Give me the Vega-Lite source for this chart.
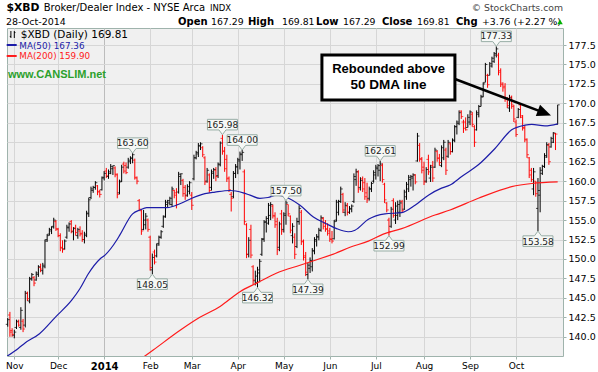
{
"$schema": "https://vega.github.io/schema/vega-lite/v6.json",
"width": 556, "height": 328,
"autosize": {"type": "none"},
"padding": {"left": 7, "top": 28, "right": 35, "bottom": 16},
"background": "white",
"config": {"view": {"fill": "#f0f0f0", "stroke": "#9fb3ac", "strokeWidth": 1},
"axis": {"title": null, "labelFont": "DejaVu Sans", "labelFontSize": 9, "labelColor": "#000000", "domain": false, "tickColor": "#9fb3ac", "tickSize": 3, "gridColor": "#d6d6d6", "grid": true, "labelOverlap": false}},
"datasets": {
"bars": [
{"i":-3,"o":141.6,"h":142.4,"l":141.3,"c":142.2},
{"i":-2,"o":142.8,"h":143.2,"l":140.0,"c":140.6},
{"i":-1,"o":140.8,"h":141.1,"l":140.0,"c":140.3},
{"i":0,"o":140.2,"h":140.9,"l":139.8,"c":140.6},
{"i":1,"o":141.2,"h":142.2,"l":141.0,"c":142.0},
{"i":2,"o":141.9,"h":142.2,"l":141.3,"c":141.5},
{"i":3,"o":141.2,"h":143.8,"l":140.9,"c":143.4},
{"i":4,"o":142.0,"h":142.3,"l":140.6,"c":141.0},
{"i":5,"o":141.5,"h":145.9,"l":141.2,"c":145.6},
{"i":6,"o":145.6,"h":145.8,"l":144.6,"c":144.9},
{"i":7,"o":144.6,"h":147.7,"l":144.3,"c":147.4},
{"i":8,"o":147.5,"h":148.2,"l":147.2,"c":148.0},
{"i":9,"o":147.6,"h":147.8,"l":146.5,"c":146.9},
{"i":10,"o":147.3,"h":148.4,"l":147.2,"c":148.2},
{"i":11,"o":148.0,"h":149.2,"l":147.7,"c":149.0},
{"i":12,"o":148.9,"h":149.4,"l":148.3,"c":148.7},
{"i":13,"o":148.5,"h":149.5,"l":148.0,"c":149.2},
{"i":14,"o":149.0,"h":152.5,"l":148.8,"c":152.3},
{"i":15,"o":152.5,"h":153.2,"l":152.2,"c":153.0},
{"i":16,"o":153.2,"h":154.0,"l":153.0,"c":153.8},
{"i":17,"o":153.6,"h":154.2,"l":153.2,"c":154.1},
{"i":18,"o":154.2,"h":155.3,"l":153.9,"c":155.0},
{"i":19,"o":154.8,"h":155.0,"l":153.6,"c":153.9},
{"i":20,"o":153.8,"h":154.0,"l":152.8,"c":153.0},
{"i":21,"o":153.0,"h":153.3,"l":151.0,"c":151.5},
{"i":22,"o":151.4,"h":152.4,"l":150.8,"c":151.2},
{"i":23,"o":151.3,"h":152.5,"l":151.2,"c":152.3},
{"i":24,"o":152.8,"h":154.4,"l":152.6,"c":154.1},
{"i":25,"o":154.0,"h":154.7,"l":153.5,"c":154.5},
{"i":26,"o":154.8,"h":155.0,"l":153.3,"c":153.6},
{"i":27,"o":153.5,"h":154.1,"l":152.4,"c":153.9},
{"i":28,"o":154.0,"h":154.4,"l":153.0,"c":153.4},
{"i":29,"o":153.0,"h":154.0,"l":152.6,"c":153.8},
{"i":30,"o":153.6,"h":154.2,"l":152.9,"c":153.2},
{"i":31,"o":153.3,"h":153.7,"l":152.2,"c":152.5},
{"i":32,"o":152.5,"h":153.5,"l":152.0,"c":153.2},
{"i":33,"o":153.0,"h":156.2,"l":152.8,"c":155.9},
{"i":34,"o":155.8,"h":157.9,"l":155.4,"c":157.6},
{"i":35,"o":157.9,"h":159.3,"l":157.7,"c":159.0},
{"i":36,"o":158.8,"h":159.4,"l":158.5,"c":159.2},
{"i":37,"o":159.2,"h":160.0,"l":158.9,"c":159.8},
{"i":38,"o":159.4,"h":159.5,"l":158.2,"c":158.6},
{"i":39,"o":158.7,"h":158.9,"l":157.9,"c":158.3},
{"i":40,"o":158.9,"h":160.6,"l":158.8,"c":160.4},
{"i":41,"o":160.5,"h":161.3,"l":160.1,"c":161.0},
{"i":42,"o":161.3,"h":161.7,"l":160.4,"c":160.7},
{"i":43,"o":160.6,"h":161.5,"l":160.3,"c":161.2},
{"i":44,"o":161.0,"h":162.2,"l":160.9,"c":161.9},
{"i":45,"o":161.6,"h":162.0,"l":160.8,"c":162.0},
{"i":46,"o":161.7,"h":161.9,"l":160.5,"c":160.9},
{"i":47,"o":160.8,"h":161.0,"l":157.8,"c":158.3},
{"i":48,"o":158.5,"h":160.2,"l":158.3,"c":159.9},
{"i":49,"o":160.0,"h":162.1,"l":159.9,"c":161.8},
{"i":50,"o":162.2,"h":162.5,"l":161.0,"c":161.3},
{"i":51,"o":162.0,"h":162.4,"l":160.9,"c":161.1},
{"i":52,"o":161.8,"h":163.0,"l":161.6,"c":162.7},
{"i":53,"o":162.5,"h":163.2,"l":162.2,"c":163.0},
{"i":54,"o":162.9,"h":163.6,"l":162.3,"c":163.4},
{"i":55,"o":162.7,"h":162.9,"l":160.2,"c":160.5},
{"i":56,"o":160.4,"h":160.6,"l":159.6,"c":160.0},
{"i":57,"o":157.5,"h":157.7,"l":156.2,"c":156.4},
{"i":58,"o":156.2,"h":156.4,"l":153.1,"c":153.6},
{"i":59,"o":153.8,"h":156.3,"l":153.7,"c":155.0},
{"i":60,"o":154.4,"h":155.9,"l":153.8,"c":155.5},
{"i":61,"o":155.0,"h":155.2,"l":153.5,"c":153.8},
{"i":62,"o":152.8,"h":153.0,"l":148.5,"c":148.9},
{"i":63,"o":148.6,"h":150.7,"l":148.05,"c":150.2},
{"i":64,"o":150.9,"h":151.2,"l":149.3,"c":149.6},
{"i":65,"o":150.4,"h":152.0,"l":150.2,"c":151.8},
{"i":66,"o":152.0,"h":153.0,"l":151.7,"c":152.8},
{"i":67,"o":152.8,"h":153.7,"l":152.6,"c":153.5},
{"i":68,"o":154.2,"h":155.6,"l":154.0,"c":155.4},
{"i":69,"o":155.5,"h":157.6,"l":155.3,"c":157.3},
{"i":70,"o":157.0,"h":157.6,"l":156.6,"c":157.5},
{"i":71,"o":157.2,"h":158.0,"l":156.9,"c":157.8},
{"i":72,"o":157.0,"h":159.3,"l":156.7,"c":159.0},
{"i":73,"o":158.8,"h":158.9,"l":157.8,"c":158.2},
{"i":74,"o":158.5,"h":159.1,"l":156.5,"c":157.0},
{"i":75,"o":158.6,"h":161.2,"l":158.4,"c":160.9},
{"i":76,"o":160.6,"h":161.0,"l":159.5,"c":160.95},
{"i":77,"o":160.1,"h":160.3,"l":158.0,"c":158.4},
{"i":78,"o":159.2,"h":159.5,"l":157.6,"c":158.1},
{"i":79,"o":158.2,"h":159.6,"l":158.0,"c":159.3},
{"i":80,"o":158.7,"h":160.0,"l":158.3,"c":159.8},
{"i":81,"o":158.2,"h":158.6,"l":156.3,"c":156.9},
{"i":82,"o":160.3,"h":163.4,"l":160.1,"c":163.0},
{"i":83,"o":163.0,"h":163.9,"l":162.8,"c":163.7},
{"i":84,"o":163.5,"h":164.9,"l":163.1,"c":164.6},
{"i":85,"o":164.5,"h":165.0,"l":164.0,"c":164.8},
{"i":86,"o":164.3,"h":164.5,"l":163.1,"c":163.4},
{"i":87,"o":163.0,"h":163.2,"l":159.5,"c":159.9},
{"i":88,"o":160.0,"h":161.7,"l":159.8,"c":161.4},
{"i":89,"o":160.8,"h":161.0,"l":158.5,"c":158.8},
{"i":90,"o":159.2,"h":161.5,"l":158.8,"c":161.2},
{"i":91,"o":161.0,"h":161.7,"l":160.3,"c":161.5},
{"i":92,"o":161.4,"h":161.8,"l":160.0,"c":160.6},
{"i":93,"o":160.7,"h":162.4,"l":160.4,"c":162.2},
{"i":94,"o":162.1,"h":165.1,"l":161.9,"c":164.9},
{"i":95,"o":165.5,"h":165.98,"l":163.4,"c":163.8},
{"i":96,"o":163.9,"h":164.4,"l":161.2,"c":161.6},
{"i":97,"o":162.8,"h":163.4,"l":159.9,"c":160.3},
{"i":98,"o":160.4,"h":160.6,"l":158.6,"c":158.9},
{"i":99,"o":158.3,"h":158.6,"l":156.1,"c":157.8},
{"i":100,"o":158.0,"h":161.3,"l":157.8,"c":161.0},
{"i":101,"o":161.0,"h":162.2,"l":160.4,"c":161.9},
{"i":102,"o":161.8,"h":163.0,"l":160.9,"c":162.8},
{"i":103,"o":162.6,"h":163.8,"l":161.5,"c":163.5},
{"i":104,"o":163.4,"h":164.0,"l":162.6,"c":163.7},
{"i":105,"o":161.2,"h":161.5,"l":154.4,"c":154.8},
{"i":106,"o":154.4,"h":154.6,"l":150.1,"c":150.6},
{"i":107,"o":150.6,"h":152.8,"l":150.2,"c":152.4},
{"i":108,"o":153.8,"h":154.4,"l":150.1,"c":150.5},
{"i":109,"o":149.0,"h":149.2,"l":146.7,"c":147.3},
{"i":110,"o":147.2,"h":148.5,"l":146.6,"c":147.8},
{"i":111,"o":147.0,"h":149.0,"l":146.32,"c":148.6},
{"i":112,"o":148.2,"h":150.0,"l":147.0,"c":149.7},
{"i":113,"o":150.6,"h":152.7,"l":150.4,"c":152.5},
{"i":114,"o":152.6,"h":155.0,"l":152.2,"c":154.7},
{"i":115,"o":154.8,"h":155.5,"l":153.4,"c":155.2},
{"i":116,"o":154.6,"h":157.2,"l":154.4,"c":156.9},
{"i":117,"o":155.6,"h":157.3,"l":155.0,"c":157.0},
{"i":118,"o":156.8,"h":157.0,"l":155.2,"c":155.6},
{"i":119,"o":155.5,"h":156.0,"l":154.0,"c":154.4},
{"i":120,"o":154.8,"h":155.3,"l":150.5,"c":151.2},
{"i":121,"o":151.5,"h":154.8,"l":151.0,"c":154.5},
{"i":122,"o":155.8,"h":156.3,"l":153.1,"c":153.6},
{"i":123,"o":153.8,"h":156.0,"l":153.4,"c":155.8},
{"i":124,"o":155.6,"h":157.5,"l":154.4,"c":157.2},
{"i":125,"o":157.0,"h":157.0,"l":155.5,"c":155.8},
{"i":126,"o":155.5,"h":155.6,"l":153.3,"c":153.7},
{"i":127,"o":153.0,"h":154.6,"l":152.0,"c":154.2},
{"i":128,"o":152.8,"h":153.3,"l":150.0,"c":150.6},
{"i":129,"o":151.6,"h":155.3,"l":151.4,"c":154.8},
{"i":130,"o":154.8,"h":156.9,"l":154.4,"c":156.5},
{"i":131,"o":156.0,"h":156.3,"l":151.8,"c":152.3},
{"i":132,"o":152.2,"h":152.5,"l":149.8,"c":150.2},
{"i":133,"o":150.4,"h":150.9,"l":147.8,"c":148.3},
{"i":134,"o":148.0,"h":149.5,"l":147.39,"c":149.2},
{"i":135,"o":148.8,"h":150.2,"l":148.2,"c":149.8},
{"i":136,"o":149.0,"h":151.4,"l":148.4,"c":151.1},
{"i":137,"o":151.0,"h":152.8,"l":150.6,"c":152.5},
{"i":138,"o":152.3,"h":153.2,"l":151.6,"c":152.9},
{"i":139,"o":152.8,"h":154.0,"l":152.4,"c":153.7},
{"i":140,"o":153.7,"h":155.6,"l":153.5,"c":155.3},
{"i":141,"o":155.2,"h":155.4,"l":153.8,"c":154.2},
{"i":142,"o":154.6,"h":155.0,"l":153.5,"c":153.8},
{"i":143,"o":153.9,"h":154.6,"l":153.0,"c":153.3},
{"i":144,"o":153.6,"h":154.0,"l":152.2,"c":152.6},
{"i":145,"o":152.5,"h":153.6,"l":152.0,"c":152.3},
{"i":146,"o":152.6,"h":155.0,"l":152.5,"c":154.8},
{"i":147,"o":155.0,"h":157.6,"l":154.8,"c":157.3},
{"i":148,"o":156.0,"h":157.6,"l":155.6,"c":157.4},
{"i":149,"o":157.4,"h":159.3,"l":157.2,"c":159.0},
{"i":150,"o":158.3,"h":158.5,"l":155.9,"c":156.3},
{"i":151,"o":156.0,"h":157.3,"l":155.5,"c":156.9},
{"i":152,"o":156.8,"h":157.2,"l":155.6,"c":156.0},
{"i":153,"o":156.0,"h":156.8,"l":155.8,"c":156.5},
{"i":154,"o":156.4,"h":157.0,"l":156.0,"c":156.8},
{"i":155,"o":157.4,"h":161.0,"l":157.2,"c":160.6},
{"i":156,"o":160.2,"h":161.6,"l":159.4,"c":161.2},
{"i":157,"o":161.2,"h":161.4,"l":158.5,"c":159.0},
{"i":158,"o":159.2,"h":160.5,"l":158.8,"c":160.1},
{"i":159,"o":160.3,"h":160.6,"l":158.6,"c":159.0},
{"i":160,"o":159.8,"h":160.4,"l":157.6,"c":158.0},
{"i":161,"o":158.5,"h":159.8,"l":157.2,"c":157.6},
{"i":162,"o":157.8,"h":159.3,"l":157.5,"c":159.0},
{"i":163,"o":159.0,"h":159.9,"l":158.6,"c":159.7},
{"i":164,"o":160.0,"h":161.4,"l":159.8,"c":161.1},
{"i":165,"o":160.8,"h":162.1,"l":160.2,"c":161.8},
{"i":166,"o":161.6,"h":162.2,"l":160.6,"c":162.0},
{"i":167,"o":161.4,"h":162.61,"l":160.0,"c":162.2},
{"i":168,"o":162.0,"h":162.3,"l":159.8,"c":160.2},
{"i":169,"o":159.6,"h":159.8,"l":157.2,"c":157.6},
{"i":170,"o":157.2,"h":157.3,"l":156.0,"c":156.3},
{"i":171,"o":155.0,"h":155.3,"l":152.99,"c":153.5},
{"i":172,"o":154.2,"h":156.7,"l":154.0,"c":156.4},
{"i":173,"o":157.5,"h":157.8,"l":155.3,"c":155.6},
{"i":174,"o":155.0,"h":157.3,"l":154.5,"c":156.8},
{"i":175,"o":155.6,"h":157.5,"l":155.0,"c":157.0},
{"i":176,"o":156.0,"h":157.6,"l":155.4,"c":157.2},
{"i":177,"o":157.4,"h":157.6,"l":155.9,"c":156.2},
{"i":178,"o":156.4,"h":158.9,"l":156.3,"c":158.6},
{"i":179,"o":158.0,"h":159.9,"l":157.6,"c":159.6},
{"i":180,"o":159.0,"h":160.8,"l":158.6,"c":160.5},
{"i":181,"o":160.2,"h":160.8,"l":159.3,"c":160.6},
{"i":182,"o":160.4,"h":161.0,"l":158.8,"c":160.8},
{"i":183,"o":160.8,"h":160.9,"l":159.6,"c":159.9},
{"i":184,"o":162.6,"h":166.2,"l":162.5,"c":165.8},
{"i":185,"o":164.6,"h":164.9,"l":162.5,"c":162.9},
{"i":186,"o":162.8,"h":163.1,"l":161.0,"c":161.4},
{"i":187,"o":161.8,"h":162.5,"l":159.5,"c":159.9},
{"i":188,"o":160.0,"h":161.8,"l":159.8,"c":161.5},
{"i":189,"o":162.8,"h":163.4,"l":160.8,"c":161.2},
{"i":190,"o":160.4,"h":162.1,"l":159.9,"c":161.8},
{"i":191,"o":162.0,"h":162.6,"l":159.9,"c":160.4},
{"i":192,"o":161.8,"h":164.3,"l":161.7,"c":164.0},
{"i":193,"o":163.8,"h":164.0,"l":162.5,"c":162.9},
{"i":194,"o":163.0,"h":163.5,"l":162.0,"c":162.4},
{"i":195,"o":162.0,"h":164.6,"l":161.8,"c":164.3},
{"i":196,"o":163.0,"h":165.3,"l":162.7,"c":165.0},
{"i":197,"o":164.0,"h":164.3,"l":160.8,"c":161.4},
{"i":198,"o":163.2,"h":165.3,"l":163.0,"c":165.0},
{"i":199,"o":164.8,"h":165.0,"l":163.4,"c":163.8},
{"i":200,"o":163.8,"h":165.5,"l":163.7,"c":165.3},
{"i":201,"o":165.2,"h":167.2,"l":165.0,"c":167.0},
{"i":202,"o":167.0,"h":167.8,"l":166.0,"c":167.6},
{"i":203,"o":167.4,"h":169.1,"l":167.2,"c":168.8},
{"i":204,"o":169.0,"h":169.1,"l":168.0,"c":168.3},
{"i":205,"o":167.6,"h":167.9,"l":166.2,"c":166.8},
{"i":206,"o":167.6,"h":168.2,"l":166.5,"c":166.6},
{"i":207,"o":166.9,"h":168.6,"l":166.9,"c":168.2},
{"i":208,"o":167.6,"h":169.1,"l":167.2,"c":168.9},
{"i":209,"o":168.6,"h":168.9,"l":167.0,"c":167.3},
{"i":210,"o":167.0,"h":167.2,"l":164.4,"c":165.0},
{"i":211,"o":166.6,"h":169.1,"l":166.5,"c":168.8},
{"i":212,"o":168.6,"h":169.8,"l":168.2,"c":169.6},
{"i":213,"o":169.6,"h":171.1,"l":169.6,"c":170.9},
{"i":214,"o":170.8,"h":172.7,"l":170.8,"c":172.5},
{"i":215,"o":172.7,"h":175.2,"l":172.7,"c":175.0},
{"i":216,"o":173.6,"h":173.8,"l":172.0,"c":172.4},
{"i":217,"o":173.6,"h":175.3,"l":173.6,"c":175.1},
{"i":218,"o":174.8,"h":176.0,"l":174.6,"c":175.8},
{"i":219,"o":175.4,"h":176.6,"l":175.2,"c":176.4},
{"i":220,"o":176.2,"h":177.33,"l":175.9,"c":177.0},
{"i":221,"o":176.2,"h":176.5,"l":173.6,"c":174.0},
{"i":222,"o":174.2,"h":174.5,"l":172.1,"c":172.6},
{"i":223,"o":172.4,"h":172.7,"l":171.5,"c":172.0},
{"i":224,"o":172.2,"h":172.6,"l":170.2,"c":170.6},
{"i":225,"o":170.6,"h":170.8,"l":169.4,"c":169.7},
{"i":226,"o":169.4,"h":171.1,"l":168.9,"c":170.7},
{"i":227,"o":170.8,"h":171.0,"l":169.3,"c":169.8},
{"i":228,"o":169.6,"h":169.8,"l":167.6,"c":168.0},
{"i":229,"o":167.6,"h":167.9,"l":165.7,"c":166.0},
{"i":230,"o":168.2,"h":169.4,"l":168.1,"c":169.2},
{"i":231,"o":169.8,"h":170.0,"l":168.1,"c":168.4},
{"i":232,"o":168.2,"h":168.5,"l":166.5,"c":166.9},
{"i":233,"o":166.8,"h":167.2,"l":165.0,"c":165.4},
{"i":234,"o":165.3,"h":165.5,"l":163.0,"c":163.4},
{"i":235,"o":163.0,"h":163.1,"l":160.4,"c":160.8},
{"i":236,"o":161.4,"h":161.7,"l":159.9,"c":160.2},
{"i":237,"o":159.0,"h":161.7,"l":158.2,"c":161.2},
{"i":238,"o":160.0,"h":160.0,"l":158.0,"c":158.4},
{"i":239,"o":156.5,"h":160.4,"l":153.58,"c":158.8},
{"i":240,"o":158.2,"h":161.8,"l":156.0,"c":161.4},
{"i":241,"o":161.0,"h":162.1,"l":160.8,"c":161.9},
{"i":242,"o":161.9,"h":163.6,"l":161.7,"c":163.3},
{"i":243,"o":163.1,"h":165.0,"l":163.0,"c":164.7},
{"i":244,"o":164.6,"h":164.9,"l":162.1,"c":162.5},
{"i":245,"o":164.4,"h":165.7,"l":164.3,"c":165.5},
{"i":246,"o":165.0,"h":166.3,"l":164.9,"c":166.2},
{"i":247,"o":166.1,"h":166.2,"l":164.0,"c":166.05},
{"i":248,"o":167.29,"h":169.81,"l":167.29,"c":169.81}
],
"ma50": [
{"i":-3.3,"v":137.5},{"i":1.8,"v":138.5},{"i":4.9,"v":139.2},{"i":11.5,"v":140.4},{"i":19,"v":142.6},{"i":26.2,"v":144.7},{"i":30,"v":146.2},{"i":33.8,"v":148.1},{"i":39.1,"v":150.0},{"i":41.4,"v":150.5},{"i":46.7,"v":152.4},{"i":48.2,"v":153.1},{"i":54,"v":155.8},{"i":57.4,"v":156.3},{"i":60.4,"v":156.6},{"i":64.2,"v":156.6},{"i":69.6,"v":156.6},{"i":76.4,"v":157.2},{"i":81,"v":157.8},{"i":87,"v":158.4},{"i":91.6,"v":158.6},{"i":98.4,"v":158.8},{"i":104.5,"v":158.5},{"i":107.6,"v":158.2},{"i":112.1,"v":157.8},{"i":115.8,"v":157.9},{"i":119.8,"v":158.2},{"i":124.3,"v":157.9},{"i":130.4,"v":156.9},{"i":136.5,"v":155.4},{"i":142.6,"v":154.5},{"i":147.1,"v":153.9},{"i":152.4,"v":153.5},{"i":155.5,"v":153.7},{"i":161.6,"v":155.1},{"i":169.2,"v":155.8},{"i":176.8,"v":155.95},{"i":182.9,"v":156.9},{"i":189,"v":158.2},{"i":195,"v":159.1},{"i":198.9,"v":159.5},{"i":204.2,"v":160.6},{"i":211.8,"v":162.1},{"i":219.4,"v":164.2},{"i":227,"v":166.6},{"i":233.1,"v":167.2},{"i":236.2,"v":167.3},{"i":242.2,"v":167.1},{"i":248,"v":167.36}
],
"ma200": [
{"i":58,"v":137.2},{"i":63.4,"v":138.3},{"i":76,"v":140.9},{"i":84.7,"v":142.5},{"i":93.9,"v":143.9},{"i":103,"v":145.8},{"i":110.6,"v":146.9},{"i":119.8,"v":148.2},{"i":130.4,"v":149.2},{"i":138,"v":149.9},{"i":146.4,"v":150.7},{"i":153.2,"v":151.5},{"i":161.6,"v":152.3},{"i":168.4,"v":153.2},{"i":176.8,"v":153.9},{"i":192,"v":155.65},{"i":198.9,"v":156.3},{"i":211.8,"v":157.8},{"i":227,"v":159.3},{"i":236.2,"v":159.7},{"i":248,"v":159.9}
],
"peaks": [
{"i":54,"v":163.60},{"i":95,"v":165.98},{"i":104,"v":164.00},{"i":124,"v":157.50},{"i":167,"v":162.61},{"i":220,"v":177.33}
],
"troughs": [
{"i":63,"v":148.05},{"i":111,"v":146.32},{"i":134,"v":147.39},{"i":171,"v":152.99},{"i":239,"v":153.58}
]
},
"layer": [
{
"data": {"name": "bars"},
"transform": [{"window": [{"op": "lag", "field": "c", "as": "pc"}], "sort": [{"field": "i", "order": "ascending"}]}],
"mark": {"type": "rule", "strokeWidth": 1},
"encoding": {
"x": {"field": "i", "type": "quantitative", "scale": {"domain": [-3.332, 250.43], "nice": false, "zero": false},
"axis": {"values": [0,20,41,62,81,102,123,144,165,187,208,229], "labelExpr": "datum.value==0?'Nov':datum.value==20?'Dec':datum.value==41?'2014':datum.value==62?'Feb':datum.value==81?'Mar':datum.value==102?'Apr':datum.value==123?'May':datum.value==144?'Jun':datum.value==165?'Jul':datum.value==187?'Aug':datum.value==208?'Sep':'Oct'", "title": null, "labelPadding": 2, "labelFlush": false, "labelOverlap": false,
"labelFontWeight": {"condition": {"test": "datum.value == 41", "value": "bold"}, "value": "normal"},
"labelFontSize": {"condition": {"test": "datum.value == 41", "value": 10}, "value": 9},
"gridColor": {"condition": {"test": "datum.value == 41", "value": "#bcbcbc"}, "value": "#d6d6d6"}}},
"y": {"field": "l", "type": "quantitative", "scale": {"domain": [137.53, 179.685], "nice": false, "zero": false},
"axis": {"orient": "right", "values": [140,142.5,145,147.5,150,152.5,155,157.5,160,162.5,165,167.5,170,172.5,175,177.5], "tickCount": 17, "format": ".1f", "title": null, "labelPadding": 2, "labelOverlap": false, "labelFontSize": 9.5}},
"y2": {"field": "h"},
"color": {"condition": {"test": "datum.pc != null && datum.c < datum.pc", "value": "#ff0000"}, "value": "#000000"}
}
},
{
"data": {"name": "bars"},
"transform": [{"window": [{"op": "lag", "field": "c", "as": "pc"}], "sort": [{"field": "i", "order": "ascending"}]}],
"mark": {"type": "tick", "orient": "horizontal", "size": 2, "thickness": 1, "xOffset": -1},
"encoding": {
"x": {"field": "i", "type": "quantitative"},
"y": {"field": "o", "type": "quantitative"},
"color": {"condition": {"test": "datum.pc != null && datum.c < datum.pc", "value": "#ff0000"}, "value": "#000000"}
}
},
{
"data": {"name": "bars"},
"transform": [{"window": [{"op": "lag", "field": "c", "as": "pc"}], "sort": [{"field": "i", "order": "ascending"}]}],
"mark": {"type": "tick", "orient": "horizontal", "size": 2, "thickness": 1, "xOffset": 1},
"encoding": {
"x": {"field": "i", "type": "quantitative"},
"y": {"field": "c", "type": "quantitative"},
"color": {"condition": {"test": "datum.pc != null && datum.c < datum.pc", "value": "#ff0000"}, "value": "#000000"}
}
},
{
"data": {"name": "ma200"},
"mark": {"type": "line", "color": "#ff1a1a", "strokeWidth": 1.2, "clip": true, "interpolate": "monotone"},
"encoding": {
"x": {"field": "i", "type": "quantitative"},
"y": {"field": "v", "type": "quantitative"}
}
},
{
"data": {"name": "ma50"},
"mark": {"type": "line", "color": "#1c1ca8", "strokeWidth": 1.2, "clip": true, "interpolate": "monotone"},
"encoding": {
"x": {"field": "i", "type": "quantitative"},
"y": {"field": "v", "type": "quantitative"}
}
},
{
"data": {"name": "peaks"},
"encoding": {
"x": {"field": "i", "type": "quantitative"},
"y": {"field": "v", "type": "quantitative"}
},
"layer": [
{"mark": {"type": "point", "shape": "M-1,-1.02H1V-0.313H0.233L0,0L-0.233,-0.313H-1Z", "size": 900, "filled": true, "fill": "#f6f8f6", "stroke": "#97ada5", "strokeWidth": 1, "opacity": 1}},
{"mark": {"type": "text", "dy": -10, "fontSize": 9, "font": "DejaVu Sans", "color": "#222222", "align": "center", "baseline": "middle"}, "encoding": {"text": {"field": "v", "type": "quantitative", "format": ".2f"}}}
]
},
{
"data": {"name": "troughs"},
"encoding": {
"x": {"field": "i", "type": "quantitative"},
"y": {"field": "v", "type": "quantitative"}
},
"layer": [
{"mark": {"type": "point", "shape": "M-1,1.02H1V0.313H0.233L0,0L-0.233,0.313H-1Z", "size": 900, "filled": true, "fill": "#f6f8f6", "stroke": "#97ada5", "strokeWidth": 1, "opacity": 1}},
{"mark": {"type": "text", "dy": 10.5, "fontSize": 9, "font": "DejaVu Sans", "color": "#222222", "align": "center", "baseline": "middle"}, "encoding": {"text": {"field": "v", "type": "quantitative", "format": ".2f"}}}
]
},
{
"data": {"values": [{}]},
"layer": [
{"mark": {"type": "rule", "strokeWidth": 2.5, "color": "#000000"}, "encoding": {"x": {"datum": 201.1}, "y": {"datum": 173.13}, "x2": {"datum": 241.97}, "y2": {"datum": 168.77}}},
{"mark": {"type": "point", "shape": "M1,0L-1,-0.85L-1,0.85Z", "size": 196, "filled": true, "fill": "#000000", "strokeWidth": 0, "angle": 20.9, "opacity": 1}, "encoding": {"x": {"datum": 241.97}, "y": {"datum": 168.77}}},
{"mark": {"type": "rect", "fill": "#ffffff", "stroke": "#000000", "strokeWidth": 3}, "encoding": {"x": {"datum": 140.4}, "x2": {"datum": 201.1}, "y": {"datum": 176.21}, "y2": {"datum": 170.43}}},
{"mark": {"type": "text", "text": "Rebounded above", "font": "Liberation Sans", "fontWeight": "bold", "fontSize": 13, "align": "center", "baseline": "alphabetic", "color": "#000000"}, "encoding": {"x": {"datum": 170.8}, "y": {"datum": 173.86}}},
{"mark": {"type": "text", "text": "50 DMA line", "font": "Liberation Sans", "fontWeight": "bold", "fontSize": 13.5, "align": "center", "baseline": "alphabetic", "color": "#000000"}, "encoding": {"x": {"datum": 170.8}, "y": {"datum": 171.81}}},
{"mark": {"type": "text", "text": "$XBD", "font": "DejaVu Sans", "fontWeight": "bold", "fontSize": 10.8, "align": "left", "baseline": "alphabetic", "color": "#000000"}, "encoding": {"x": {"datum": -3.56}, "y": {"datum": 181.81}}},
{"mark": {"type": "text", "text": "Broker/Dealer Index - NYSE Arca", "font": "DejaVu Sans", "fontSize": 10, "align": "left", "baseline": "alphabetic", "color": "#000000"}, "encoding": {"x": {"datum": 13.4}, "y": {"datum": 181.81}}},
{"mark": {"type": "text", "text": "INDX", "font": "DejaVu Sans", "fontSize": 8.5, "align": "left", "baseline": "alphabetic", "color": "#000000"}, "encoding": {"x": {"datum": 89.3}, "y": {"datum": 181.81}}},
{"mark": {"type": "text", "text": "© StockCharts.com", "font": "DejaVu Sans", "fontSize": 9.3, "align": "right", "baseline": "alphabetic", "color": "#444444"}, "encoding": {"x": {"datum": 250.43}, "y": {"datum": 181.93}}},
{"mark": {"type": "text", "text": "28-Oct-2014", "font": "DejaVu Sans", "fontSize": 9.5, "align": "left", "baseline": "alphabetic", "color": "#000000"}, "encoding": {"x": {"datum": -3.79}, "y": {"datum": 180.07}}},
{"mark": {"type": "text", "text": "Open", "font": "DejaVu Sans", "fontWeight": "bold", "fontSize": 10, "align": "left", "baseline": "alphabetic", "color": "#000000"}, "encoding": {"x": {"datum": 74.71}, "y": {"datum": 180.07}}},
{"mark": {"type": "text", "text": "167.29", "font": "DejaVu Sans", "fontSize": 9.3, "align": "left", "baseline": "alphabetic", "color": "#000000"}, "encoding": {"x": {"datum": 89.78}, "y": {"datum": 180.07}}},
{"mark": {"type": "text", "text": "High", "font": "DejaVu Sans", "fontWeight": "bold", "fontSize": 10, "align": "left", "baseline": "alphabetic", "color": "#000000"}, "encoding": {"x": {"datum": 106.66}, "y": {"datum": 180.07}}},
{"mark": {"type": "text", "text": "169.81", "font": "DejaVu Sans", "fontSize": 9.3, "align": "left", "baseline": "alphabetic", "color": "#000000"}, "encoding": {"x": {"datum": 122.18}, "y": {"datum": 180.07}}},
{"mark": {"type": "text", "text": "Low", "font": "DejaVu Sans", "fontWeight": "bold", "fontSize": 10, "align": "left", "baseline": "alphabetic", "color": "#000000"}, "encoding": {"x": {"datum": 137.7}, "y": {"datum": 180.07}}},
{"mark": {"type": "text", "text": "167.29", "font": "DejaVu Sans", "fontSize": 9.3, "align": "left", "baseline": "alphabetic", "color": "#000000"}, "encoding": {"x": {"datum": 150.02}, "y": {"datum": 180.07}}},
{"mark": {"type": "text", "text": "Close", "font": "DejaVu Sans", "fontWeight": "bold", "fontSize": 10, "align": "left", "baseline": "alphabetic", "color": "#000000"}, "encoding": {"x": {"datum": 167.82}, "y": {"datum": 180.07}}},
{"mark": {"type": "text", "text": "169.81", "font": "DejaVu Sans", "fontSize": 9.3, "align": "left", "baseline": "alphabetic", "color": "#000000"}, "encoding": {"x": {"datum": 183.8}, "y": {"datum": 180.07}}},
{"mark": {"type": "text", "text": "Chg", "font": "DejaVu Sans", "fontWeight": "bold", "fontSize": 10, "align": "left", "baseline": "alphabetic", "color": "#000000"}, "encoding": {"x": {"datum": 201.6}, "y": {"datum": 180.07}}},
{"mark": {"type": "text", "text": "+3.76 (+2.27 %)", "font": "DejaVu Sans", "fontSize": 9.3, "align": "left", "baseline": "alphabetic", "color": "#000000"}, "encoding": {"x": {"datum": 213.47}, "y": {"datum": 180.07}}},
{"mark": {"type": "point", "shape": "triangle-up", "size": 30, "filled": true, "fill": "#00b000", "strokeWidth": 0, "opacity": 1}, "encoding": {"x": {"datum": 249.07}, "y": {"datum": 180.46}}},
{"mark": {"type": "rule", "strokeWidth": 1, "color": "#000000"}, "encoding": {"x": {"datum": -1.55}, "y": {"datum": 179.3}, "y2": {"datum": 178.4}}},
{"mark": {"type": "rule", "strokeWidth": 1, "color": "#000000"}, "encoding": {"x": {"datum": -2.05}, "x2": {"datum": -1.55}, "y": {"datum": 178.6}}},
{"mark": {"type": "rule", "strokeWidth": 1, "color": "#000000"}, "encoding": {"x": {"datum": 0.0}, "y": {"datum": 179.3}, "y2": {"datum": 178.4}}},
{"mark": {"type": "rule", "strokeWidth": 1, "color": "#000000"}, "encoding": {"x": {"datum": 0.0}, "x2": {"datum": 0.5}, "y": {"datum": 179.1}}},
{"mark": {"type": "text", "text": "$XBD (Daily) 169.81", "font": "DejaVu Sans", "fontSize": 10.5, "align": "left", "baseline": "alphabetic", "color": "#000000"}, "encoding": {"x": {"datum": 2.92}, "y": {"datum": 178.46}}},
{"mark": {"type": "point", "shape": "stroke", "size": 100, "filled": false, "stroke": "#1c1ca8", "strokeWidth": 2, "opacity": 1}, "encoding": {"x": {"datum": -1.19}, "y": {"datum": 177.5}}},
{"mark": {"type": "text", "text": "MA(50) 167.36", "font": "DejaVu Sans", "fontSize": 8.8, "align": "left", "baseline": "alphabetic", "color": "#1c1ca8"}, "encoding": {"x": {"datum": 2.28}, "y": {"datum": 177.05}}},
{"mark": {"type": "point", "shape": "stroke", "size": 100, "filled": false, "stroke": "#ff1a1a", "strokeWidth": 2, "opacity": 1}, "encoding": {"x": {"datum": -1.19}, "y": {"datum": 176.09}}},
{"mark": {"type": "text", "text": "MA(200) 159.90", "font": "DejaVu Sans", "fontSize": 8.8, "align": "left", "baseline": "alphabetic", "color": "#ff1a1a"}, "encoding": {"x": {"datum": 2.28}, "y": {"datum": 175.64}}},
{"mark": {"type": "text", "text": "www.CANSLIM.net", "font": "Liberation Sans", "fontWeight": "bold", "fontSize": 11, "align": "left", "baseline": "alphabetic", "color": "#2ca02c"}, "encoding": {"x": {"datum": -2.88}, "y": {"datum": 173.26}}}
]
}
]
}
